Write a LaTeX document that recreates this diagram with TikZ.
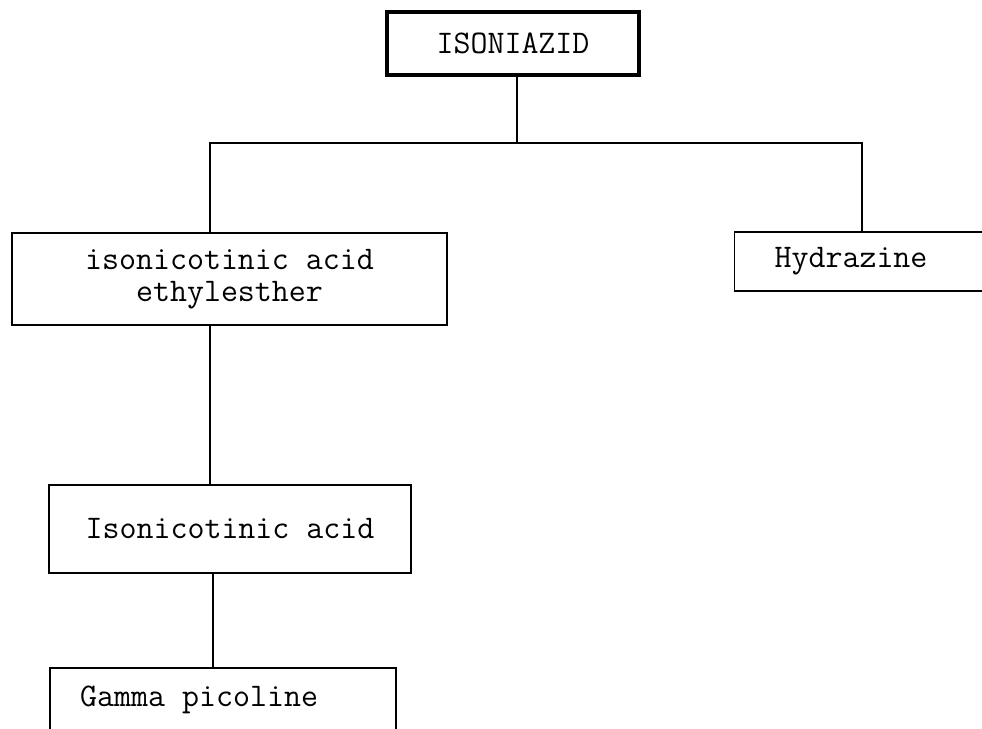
\documentclass[tikz,border=0pt]{standalone}
\usepackage{fontspec}
\begin{document}
\begin{tikzpicture}[x=1pt,y=-1pt,
  every node/.style={font=\ttfamily\fontsize{33}{32}\selectfont},
  box/.style={draw, line width=1.6pt, inner sep=0pt, align=center},
  mainbox/.style={box, line width=4pt},
  link/.style={line width=1.6pt}]
\useasboundingbox (0,0) rectangle (982,728);

% compound boxes
\node[mainbox, minimum width=252, minimum height=63] (top) at (513,43.5) {ISONIAZID};
\node[box, minimum width=435, minimum height=92] (ester) at (229.5,279) {isonicotinic acid\\ethylesther};
\node[box, minimum width=255, minimum height=59] (hyd) at (862,261.5) {\hspace*{-22pt}Hydrazine};
\node[box, minimum width=362, minimum height=88] (acid) at (230,529) {Isonicotinic acid};
\node[box, minimum width=346, minimum height=110, anchor=north west] (gamma) at (49,667) {};
\node[anchor=west, inner sep=0pt] (gammatext) at (80,700) {Gamma picoline};

% tree connectors
\coordinate (bus) at (517,143);
\draw[link] ([xshift=4pt]top.south) -- (bus);
\draw[link] ([xshift=-19.5pt]ester.north) |- (bus) -| (hyd.north);
\draw[link] ([xshift=-19.5pt]ester.south) -- ([xshift=-19.5pt]ester.south |- acid.north);
\draw[link] ([xshift=-17pt]acid.south) -- ([xshift=-17pt]acid.south |- gamma.north);
\end{tikzpicture}
\end{document}
